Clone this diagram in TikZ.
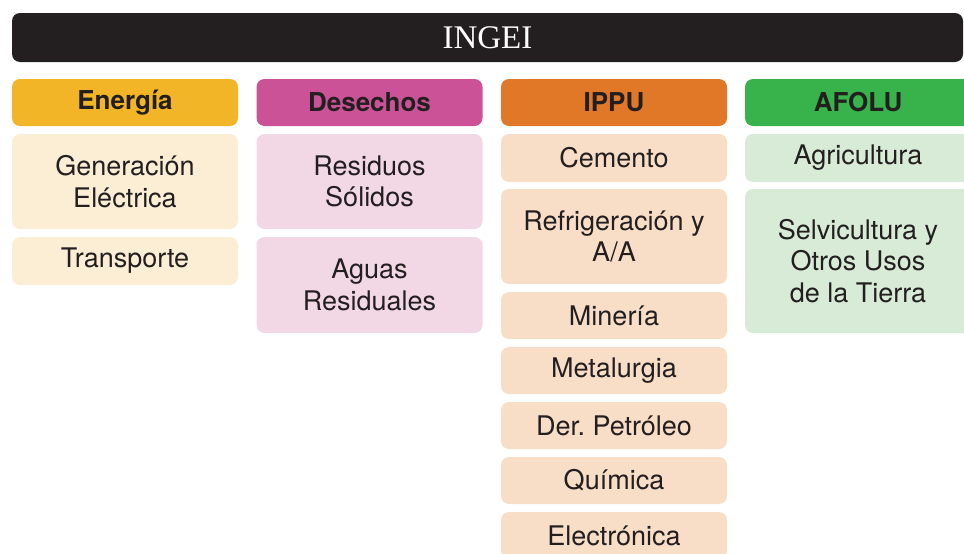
\documentclass[tikz,border=0pt]{standalone}
\usepackage{fontspec}
\setmainfont{TeX Gyre Heros}
\newfontfamily\titlefont{Liberation Serif}
\definecolor{ink}{HTML}{231F20}
\definecolor{enH}{HTML}{F2B527}
\definecolor{enB}{HTML}{FCEED5}
\definecolor{deH}{HTML}{CB5296}
\definecolor{deB}{HTML}{F2D8E5}
\definecolor{ipH}{HTML}{E07828}
\definecolor{ipB}{HTML}{F8DEC6}
\definecolor{afH}{HTML}{38B24A}
\definecolor{afB}{HTML}{D8EBD6}
\tikzset{
  box/.style={rounded corners=8pt, minimum width=226pt, inner sep=0pt, align=center,
    text=ink, font=\fontsize{27}{31.5}\selectfont},
  head/.style={box, minimum height=47pt, font=\fontsize{26}{31.5}\selectfont\bfseries},
}
\begin{document}
\begin{tikzpicture}[x=1pt,y=-1pt]
\useasboundingbox (0,0) rectangle (964,554);
\clip (0,0) rectangle (964,554);
% title
\node[fill=ink, rounded corners=8pt, minimum width=951pt, minimum height=49pt, inner sep=0pt,
  text=white, font=\titlefont\fontsize{33}{38}\selectfont] (title) at (487.5,37.5) {INGEI};
% headers
\node[head, fill=enH] (en) at (125,102.5) {Energía};
\node[head, fill=deH] (de) at (369.5,102.5) {Desechos};
\node[head, fill=ipH] (ip) at (614,102.5) {IPPU};
\node[head, fill=afH] (af) at (858,102.5) {AFOLU};
% Energia
\node[box, fill=enB, minimum height=95pt] (ge) at (125,181.5) {Generación\\Eléctrica};
\node[box, fill=enB, minimum height=48pt] (tr) at (125,261) {Transporte};
% Desechos
\node[box, fill=deB, minimum height=95pt] (rs) at (369.5,181.5) {Residuos\\Sólidos};
\node[box, fill=deB, minimum height=96pt] (ar) at (369.5,285) {Aguas\\Residuales};
% IPPU
\node[box, fill=ipB, minimum height=48pt] (cem) at (614,158) {Cemento};
\node[box, fill=ipB, minimum height=95pt] (ref) at (614,236.5) {Refrigeración y\\A/A};
\node[box, fill=ipB, minimum height=47pt] (min) at (614,315.5) {Minería};
\node[box, fill=ipB, minimum height=47pt] (met) at (614,370.5) {Metalurgia};
\node[box, fill=ipB, minimum height=47pt] (der) at (614,425.5) {Der.\ Petróleo};
\node[box, fill=ipB, minimum height=47pt] (qui) at (614,480.5) {Química};
\node[box, fill=ipB, minimum height=47pt] (ele) at (614,535.5) {Electrónica};
% AFOLU
\node[box, fill=afB, minimum height=48pt] (agr) at (858,158) {Agricultura};
\node[box, fill=afB, minimum height=144pt] (sel) at (858,261) {Selvicultura y\\Otros Usos\\de la Tierra};
\end{tikzpicture}
\end{document}
